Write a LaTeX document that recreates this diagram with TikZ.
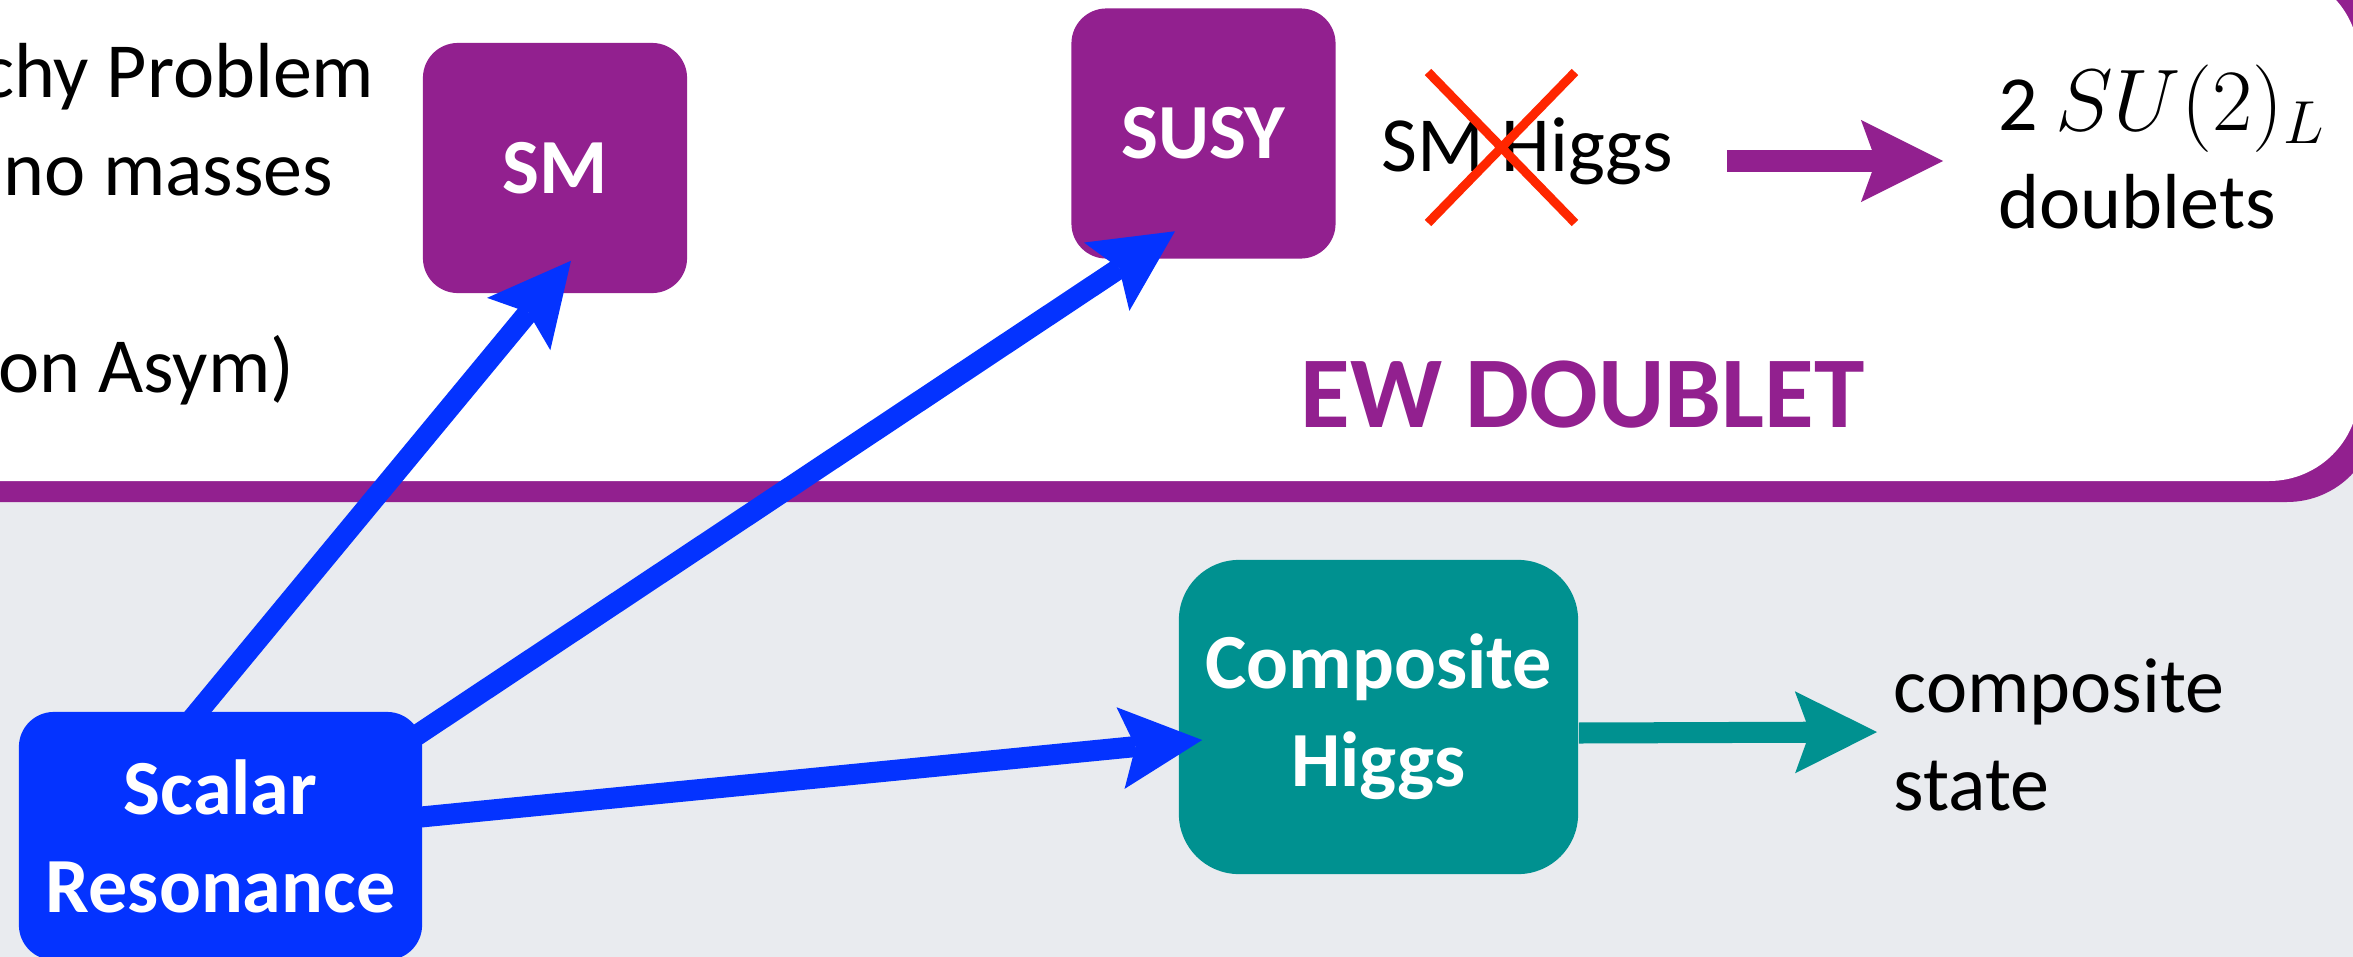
\documentclass[tikz,border=0pt]{standalone}
\usepackage{fontspec}
\setmainfont{Carlito}
\usetikzlibrary{arrows.meta,calc}

\definecolor{ewpurple}{RGB}{146,32,143}
\definecolor{resblue}{RGB}{4,51,255}
\definecolor{compteal}{RGB}{0,145,144}
\definecolor{crossred}{RGB}{255,38,0}
\definecolor{lowgray}{RGB}{233,235,239}

\pgfdeclarelayer{bg}
\pgfdeclarelayer{fg}
\pgfsetlayers{bg,main,fg}

\begin{document}
\begin{tikzpicture}[x=0.01cm,y=-0.01cm,
    every node/.style={inner sep=0pt,font=\fontsize{22.2pt}{27.9pt}\selectfont},
    box/.style={rounded corners=0.35cm,text=white,align=center,
        font=\fontsize{22.2pt}{27.9pt}\selectfont\bfseries,
        minimum width=2.64cm,minimum height=2.5cm},
    arr/.style={line width=0.21cm,
        -{Stealth[length=0.82cm,width=0.82cm,inset=0.15cm,line width=0pt]}}]
    \useasboundingbox (0,0) rectangle (2353,957);
    \clip (0,0) rectangle (2353,957);

    % panels
    \begin{pgfonlayer}{bg}
        \fill[lowgray] (0,0) rectangle (2353,957);
        \fill[ewpurple,rounded corners=0.9cm] (-200,-40) rectangle (2377,502);
        \fill[white,rounded corners=0.9cm] (-200,-30) rectangle (2359,481);
    \end{pgfonlayer}

    \node[anchor=base east] (hier) at (375,97) {chy Problem};
    \node[anchor=base east] (nu) at (334,195) {no masses};
    \node[anchor=base east] (bary) at (295,392) {on Asym)};

    \node[box,fill=ewpurple] (sm) at (555,168) {SM};
    \node[box,fill=ewpurple] (susy) at (1203.5,133.5) {SUSY};
    \node[box,fill=compteal,minimum width=3.99cm,minimum height=3.14cm,
        rounded corners=0.6cm] (comp) at (1378.5,717) {Composite\\Higgs};
    \begin{pgfonlayer}{fg}
        \node[box,fill=resblue,minimum width=4.03cm,minimum height=2.48cm]
            (scalar) at (220.5,836) {Scalar\\Resonance};
    \end{pgfonlayer}

    \node[anchor=base west] (smhiggs) at (1381,171) {SM Higgs};
    \node[anchor=base west] (twosu) at (1998,130)
        {2 {\fontsize{25.5pt}{27.9pt}\selectfont$SU(2)_L$}};
    \node[anchor=base west] (doub) at (1998,228) {doublets};
    \node[anchor=base west,text=ewpurple,
        font=\fontsize{28.9pt}{34pt}\selectfont\bfseries] (ew) at (1300,427) {EW DOUBLET};
    \node[anchor=base west] (compo) at (1893,712) {composite};
    \node[anchor=base west] (state) at (1893,810) {state};

    % cross over the SM Higgs
    \draw[crossred,line width=0.09cm]
        (1428,72) -- (1575,223)
        (1575,72) -- (1428,223);

    \draw[arr,ewpurple] ($(smhiggs.base east)+(53,-10)$) -- ($(twosu.base west)+(-55,31)$);
    \draw[arr,compteal] ($(comp.east)+(0,16)$) -- ($(compo.base west)+(-16,20)$);
    \draw[arr,resblue] ($(scalar.north)+(-41,23)$) -- ($(sm.south)+(16,-33)$);
    \draw[arr,resblue] ($(scalar.north east)+(-27,38)$) -- ($(susy.south)+(-28.5,-28)$);
    \draw[arr,resblue] ($(scalar.east)+(-22,-17)$) -- ($(comp.west)+(24,23)$);
\end{tikzpicture}
\end{document}
